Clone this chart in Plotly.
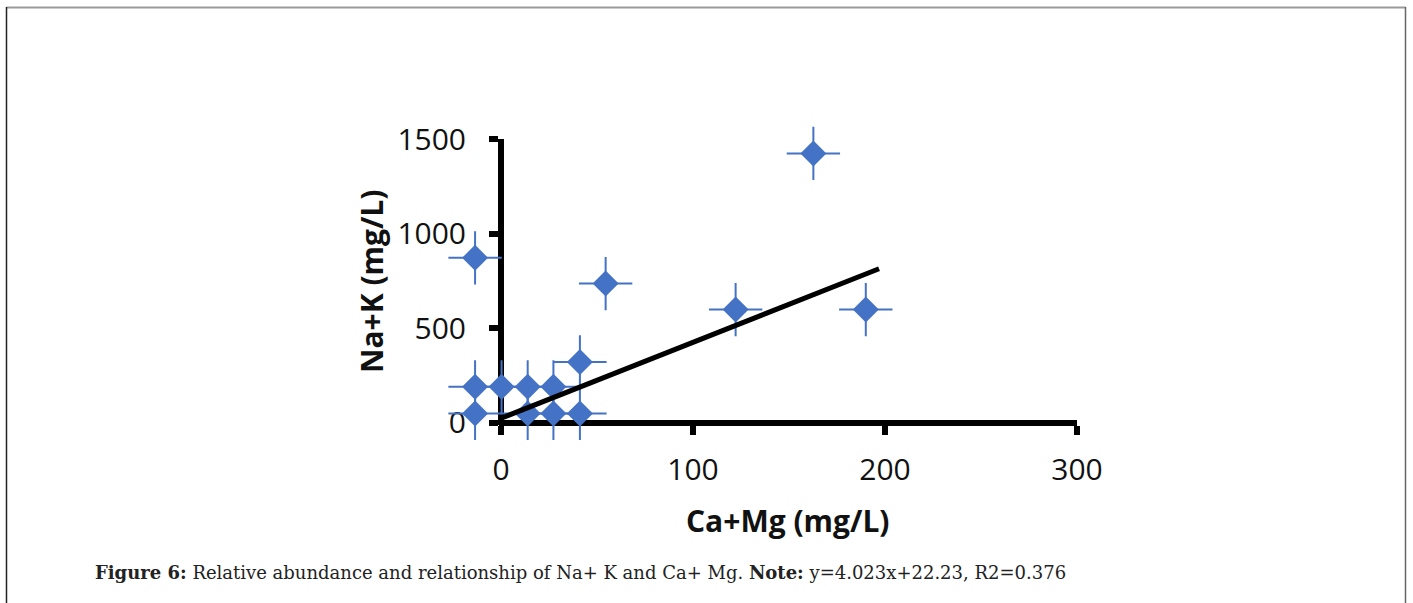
import plotly.graph_objects as go

# ---- data ----
ca_mg = [-13.5, -13.5, -13.5, 0.3, 13.9, 13.9, 27.3, 27.3, 41.1, 41.1, 54.5, 122.2, 162.7, 190.0]
na_k = [872, 189, 48, 189, 189, 48, 189, 48, 48, 321, 736, 598, 1425, 598]
err_x = 13.9
err_y = 141
slope = 4.023
intercept = 22.23
trend_x = [0, 196.9]
trend_y = [slope * v + intercept for v in trend_x]
x_ticks = [0, 100, 200, 300]
x_tick_labels = ["0", "100", "200", "300"]
y_ticks = [0, 500, 1000, 1500]
y_tick_labels = ["0", "500", "1000", "1500"]

W, H = 1413, 603
BLUE = "#4472C4"
AXW = 6  # axis line width (px)
EDGE = 2  # plot edge sits this many px beyond the zero line centre

# pixel anchors of the visible axes
PX0, PX300 = 501.0, 1077.0
PY0, PY1500 = 422.5, 139.3
ux = (PX300 - PX0) / 300.0
uy = (PY0 - PY1500) / 1500.0

# visible axes: plot area starts just beyond zero, axes drawn as zerolines
vx_range = [-EDGE / ux, 300]
vy_range = [-EDGE / uy, 1500]
vx_dom = [(PX0 + vx_range[0] * ux) / W, PX300 / W]
vy_dom = [1 - (PY0 - vy_range[0] * uy) / H, 1 - PY1500 / H]

# data axes (invisible), extended range so that error bars beyond the axes show
dx_range = [-40, 300]
dy_range = [-250, 1700]
dx_dom = [(PX0 + dx_range[0] * ux) / W, (PX0 + dx_range[1] * ux) / W]
dy_dom = [1 - (PY0 - dy_range[0] * uy) / H, 1 - (PY0 - dy_range[1] * uy) / H]

fig = go.Figure()

# empty trace so that the visible (decoration) axes are drawn
fig.add_trace(go.Scatter(x=[], y=[], xaxis="x", yaxis="y", mode="markers",
                         showlegend=False, hoverinfo="skip"))

fig.add_trace(go.Scatter(
    x=ca_mg, y=na_k, mode="markers",
    marker=dict(symbol="diamond", size=20, color=BLUE, line=dict(width=0)),
    error_x=dict(type="constant", value=err_x, color=BLUE, thickness=2, width=0),
    error_y=dict(type="constant", value=err_y, color=BLUE, thickness=2, width=0),
    xaxis="x2", yaxis="y2", showlegend=False, hoverinfo="x+y",
))
fig.add_trace(go.Scatter(
    x=trend_x, y=trend_y, mode="lines",
    line=dict(color="black", width=5),
    xaxis="x2", yaxis="y2", showlegend=False,
))

tickfont = dict(family="Open Sans", size=30, color="#111")

fig.update_layout(
    width=W, height=H,
    margin=dict(l=0, r=0, t=0, b=0, autoexpand=False),
    paper_bgcolor="white",
    plot_bgcolor="rgba(0,0,0,0)",
    xaxis=dict(
        domain=vx_dom, range=vx_range, anchor="y",
        showline=False, zeroline=True, zerolinewidth=AXW, zerolinecolor="black",
        ticks="outside", ticklen=9, tickwidth=AXW, tickcolor="black",
        tickvals=x_ticks, ticktext=x_tick_labels, tickfont=tickfont,
        showgrid=False, ticklabelstandoff=9,
    ),
    yaxis=dict(
        domain=vy_dom, range=vy_range, anchor="x",
        showline=False, zeroline=True, zerolinewidth=AXW, zerolinecolor="black",
        ticks="outside", ticklen=9, tickwidth=AXW, tickcolor="black",
        tickvals=y_ticks, ticktext=y_tick_labels, tickfont=tickfont,
        showgrid=False, ticklabelstandoff=17,
    ),
    xaxis2=dict(domain=dx_dom, range=dx_range, anchor="y2", visible=False),
    yaxis2=dict(domain=dy_dom, range=dy_range, anchor="x2", visible=False),
    annotations=[
        dict(text="<b>Ca+Mg (mg/L)</b>", x=788 / W, y=1 - 520 / H, xref="paper", yref="paper",
             xanchor="center", yanchor="middle", showarrow=False,
             font=dict(family="Open Sans", size=30, color="#111")),
        dict(text="<b>Na+K (mg/L)</b>", x=371 / W, y=1 - 281 / H, xref="paper", yref="paper",
             xanchor="center", yanchor="middle", showarrow=False, textangle=-90,
             font=dict(family="Open Sans", size=30, color="#111")),
        dict(text="<b>Figure 6:</b> Relative abundance and relationship of Na+ K and Ca+ Mg. "
                  "<b>Note:</b> y=4.023x+22.23, R2=0.376",
             x=93 / W, y=1 - 572 / H, xref="paper", yref="paper",
             xanchor="left", yanchor="middle", showarrow=False,
             font=dict(family="DejaVu Serif", size=18, color="#222")),
    ],
    shapes=[
        dict(type="line", xref="paper", yref="paper", x0=6.5 / W, x1=1405.5 / W,
             y0=1 - 7.5 / H, y1=1 - 7.5 / H, line=dict(color="#999999", width=2)),
        dict(type="line", xref="paper", yref="paper", x0=6.5 / W, x1=6.5 / W,
             y0=1 - 7 / H, y1=-0.01, line=dict(color="#222222", width=1.5)),
        dict(type="line", xref="paper", yref="paper", x0=1405.5 / W, x1=1405.5 / W,
             y0=1 - 7 / H, y1=-0.01, line=dict(color="#666666", width=1.5)),
    ],
)

fig.write_html("out.html")
